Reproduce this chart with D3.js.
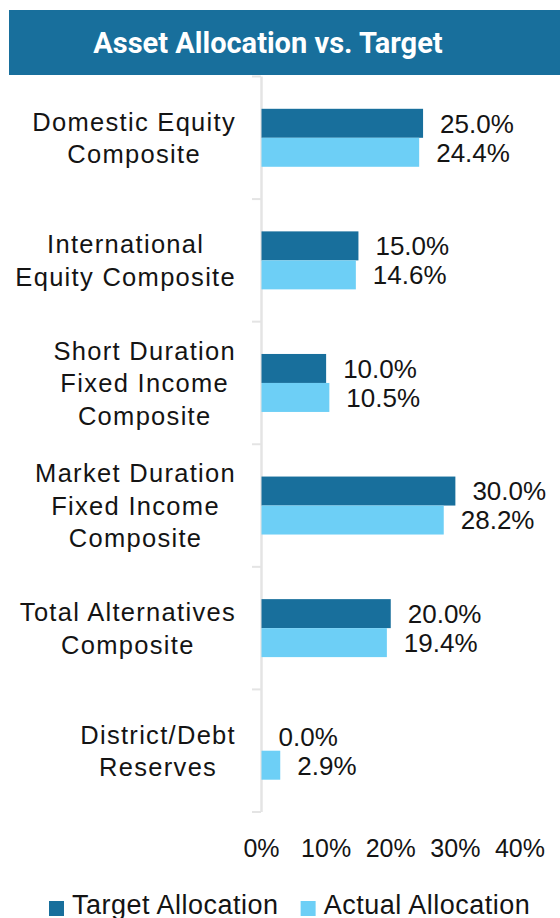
<!DOCTYPE html>
<html>
<head>
<meta charset="utf-8">
<script src="https://cdn.jsdelivr.net/npm/d3@7"></script>
<style>
  html, body { margin: 0; padding: 0; background: #fff; }
  svg text { font-family: "Liberation Sans", Arial, sans-serif; fill: #141414; }
</style>
</head>
<body>
<div id="chart"></div>
<script>
// Chart data
const categories = [
  ['Domestic Equity', 'Composite'],
  ['International', 'Equity Composite'],
  ['Short Duration', 'Fixed Income', 'Composite'],
  ['Market Duration', 'Fixed Income', 'Composite'],
  ['Total Alternatives', 'Composite'],
  ['District/Debt', 'Reserves']
];
const targetValues = [25.0, 15.0, 10.0, 30.0, 20.0, 0.0];
const actualValues = [24.4, 14.6, 10.5, 28.2, 19.4, 2.9];
const seriesNames = ['Target Allocation', 'Actual Allocation'];
const xTicks = [0, 10, 20, 30, 40];

const colors = { target: '#186f9c', actual: '#6dcff6', axis: '#e4e4e4' };

function drawChart() {
  const width = 560, height = 918;
  const svg = d3.select('#chart').append('svg')
    .attr('width', width)
    .attr('height', height);

  // Title banner
  svg.append('rect')
    .attr('x', 9).attr('y', 10)
    .attr('width', width - 9).attr('height', 65)
    .attr('fill', colors.target);
  svg.append('text')
    .attr('x', 268).attr('y', 53)
    .attr('text-anchor', 'middle')
    .style('font-family', 'Roboto, "Liberation Sans", sans-serif')
    .style('font-weight', '700')
    .style('font-size', '29px')
    .style('fill', '#fff')
    .text('Asset Allocation vs. Target');

  // Scales
  const x = d3.scaleLinear().domain([0, 40]).range([261.5, 520]);
  const y = d3.scaleBand()
    .domain(d3.range(categories.length))
    .range([76.5, 812])
    .paddingInner(0.527)
    .paddingOuter(0.2635);
  const ySub = d3.scaleBand().domain([0, 1]).range([0, y.bandwidth()]);

  const step = y.step();

  // Axis line and category separators
  svg.append('line')
    .attr('x1', 261.5).attr('x2', 261.5)
    .attr('y1', 76.5).attr('y2', 812)
    .attr('stroke', colors.axis).attr('stroke-width', 2.5);
  const bounds = d3.range(categories.length + 1).map(i => 76.5 + i * step);
  svg.selectAll('.sep')
    .data(bounds)
    .join('line')
    .attr('class', 'sep')
    .attr('x1', 252).attr('x2', 261)
    .attr('y1', d => d).attr('y2', d => d)
    .attr('stroke', colors.axis).attr('stroke-width', 2);

  // Bars
  const rows = categories.map((c, i) => ({ i, vals: [targetValues[i], actualValues[i]] }));
  const groups = svg.selectAll('.grp')
    .data(rows)
    .join('g')
    .attr('class', 'grp')
    .attr('transform', d => `translate(0,${y(d.i)})`);

  groups.selectAll('rect')
    .data(d => d.vals.map((v, k) => ({ v, k })))
    .join('rect')
    .attr('x', x(0))
    .attr('y', d => ySub(d.k))
    .attr('width', d => x(d.v) - x(0))
    .attr('height', ySub.bandwidth())
    .attr('fill', d => d.k === 0 ? colors.target : colors.actual);

  groups.selectAll('.val')
    .data(d => d.vals.map((v, k) => ({ v, k })))
    .join('text')
    .attr('class', 'val')
    .attr('x', d => x(d.v) + 17)
    .attr('y', d => ySub(d.k) + ySub.bandwidth() / 2)
    .attr('dy', '0.36em')
    .style('font-size', '26px')
    .text(d => d.v.toFixed(1) + '%');

  // Category labels: block right-aligned, lines centred within block
  const lineH = 32.5;
  categories.forEach((lines, i) => {
    const cy = y(i) + y.bandwidth() / 2;
    const g = svg.append('g');
    const texts = lines.map((ln, j) => g.append('text')
      .attr('y', cy + (j - (lines.length - 1) / 2) * lineH)
      .attr('dy', '0.36em')
      .attr('text-anchor', 'middle')
      .style('font-size', '25.5px')
      .style('letter-spacing', '1.3px')
      .text(ln));
    const maxW = d3.max(texts, t => t.node().getComputedTextLength());
    texts.forEach(t => t.attr('x', 236 - maxW / 2));
  });

  // X tick labels
  svg.selectAll('.tick-lbl')
    .data(xTicks)
    .join('text')
    .attr('class', 'tick-lbl')
    .attr('x', d => x(d))
    .attr('y', 857)
    .attr('text-anchor', 'middle')
    .style('font-size', '25px')
    .text(d => d + '%');

  // Legend
  const legend = svg.append('g');
  let lx = 49;
  seriesNames.forEach((name, k) => {
    legend.append('rect')
      .attr('x', lx).attr('y', 901)
      .attr('width', 15).attr('height', 15)
      .attr('fill', k === 0 ? colors.target : colors.actual);
    const t = legend.append('text')
      .attr('x', lx + 23).attr('y', 914)
      .style('font-size', '27px')
      .style('letter-spacing', '0.5px')
      .text(name);
    lx += 23 + t.node().getComputedTextLength() + 22;
  });
}

drawChart();
</script>
</body>
</html>
